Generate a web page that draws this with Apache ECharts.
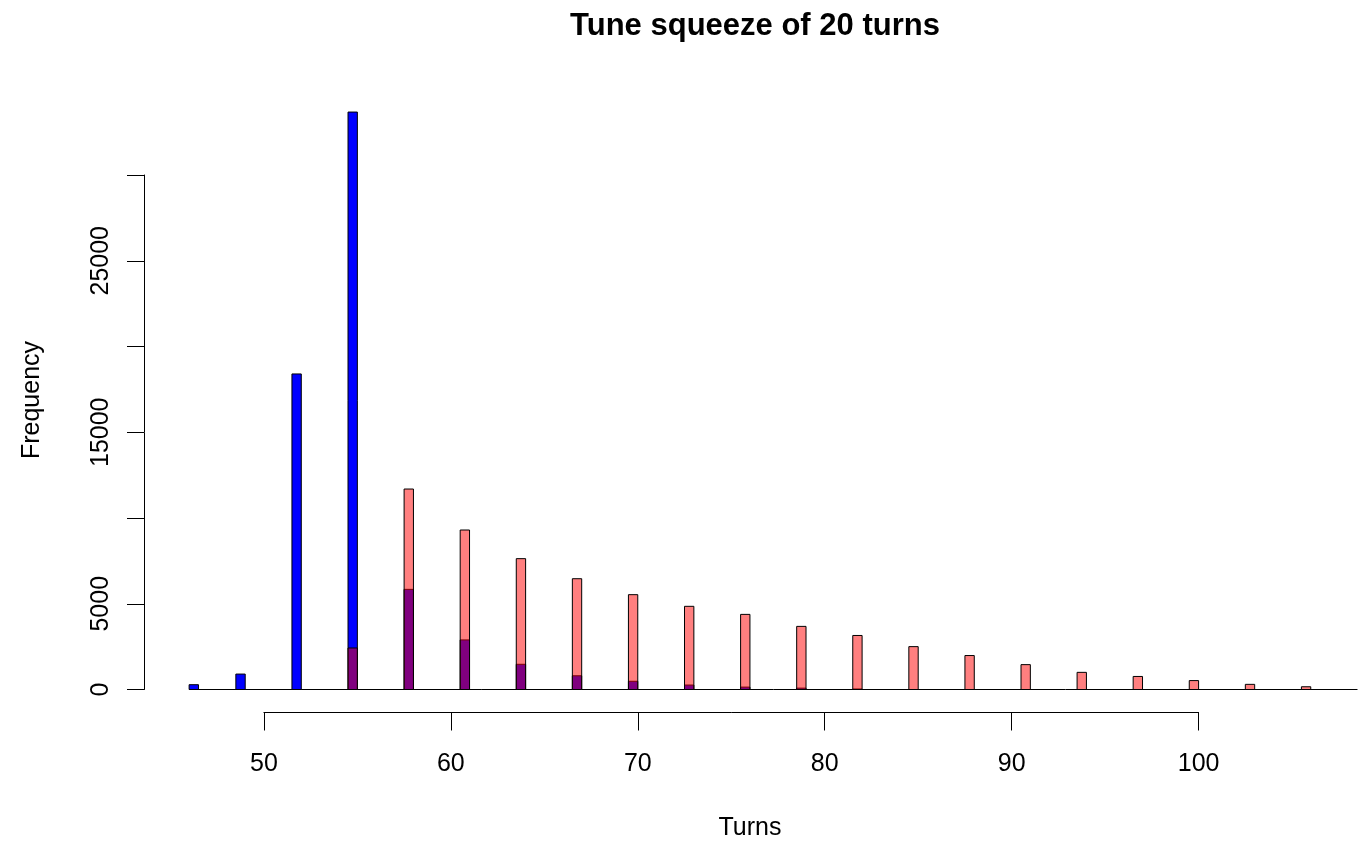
<!DOCTYPE html>
<html>
<head>
<meta charset="utf-8">
<script src="https://cdn.jsdelivr.net/npm/echarts@6/dist/echarts.min.js"></script>
<style>
  html, body { margin: 0; padding: 0; background: #fff; }
  #chart { width: 1365px; height: 843px; }
</style>
</head>
<body>
<div id="chart"></div>
<script>
// histogram bins are 0.5 turns wide, only non-empty bins listed
var binWidth = 0.5
var blueStart = [46, 48.5, 51.5, 54.5, 57.5, 60.5, 63.5, 66.5, 69.5, 72.5, 75.5, 78.5, 81.5]
var blueCounts = [280, 900, 18400, 33670, 5840, 2890, 1470, 800, 480, 260, 140, 80, 30]
var redStart = [54.5, 57.5, 60.5, 63.5, 66.5, 69.5, 72.5, 75.5, 78.5, 81.5, 84.5, 87.5, 90.5, 93.5, 96.5, 99.5, 102.5, 105.5]
var redCounts = [2420, 11690, 9300, 7630, 6460, 5530, 4850, 4380, 3680, 3150, 2500, 1980, 1450, 1000, 760, 520, 300, 160]
// zero-count bins are drawn as a flat line from first to last break
var baseline = [[46, 108.5]]
var xTicks = [50, 60, 70, 80, 90, 100]
var yTickLabels = ['0', '5000', '', '15000', '', '25000', '']

var font = 'Liberation Sans'

function toBins(starts, counts) {
  return starts.map(function (s, i) { return [s, s + binWidth, counts[i]] })
}

function barRenderer(fill) {
  return function (params, api) {
    var p0 = api.coord([api.value(0), api.value(2)])
    var p1 = api.coord([api.value(1), 0])
    return {
      type: 'rect',
      shape: { x: p0[0], y: p0[1], width: p1[0] - p0[0], height: p1[1] - p0[1] },
      style: { fill: fill, stroke: '#000', lineWidth: 1 }
    }
  }
}

function baselineRenderer(params, api) {
  var a = api.coord([api.value(0), 0])
  var b = api.coord([api.value(1), 0])
  return {
    type: 'line',
    shape: { x1: a[0], y1: a[1], x2: b[0], y2: b[1] },
    style: { stroke: '#000', lineWidth: 1 }
  }
}

var chart = echarts.init(document.getElementById('chart'))
chart.setOption({
  animation: false,
  backgroundColor: '#fff',
  title: {
    text: 'Tune squeeze of 20 turns',
    left: 750,
    top: 6,
    textAlign: 'center',
    textStyle: { fontFamily: font, fontSize: 31, fontWeight: 'bold', color: '#000' }
  },
  grid: { left: 263.9, right: 166.4, top: 175, bottom: 153.5 },
  xAxis: {
    type: 'value',
    min: 50, max: 100, interval: 10,
    offset: 23,
    splitLine: { show: false },
    axisLine: { onZero: false, lineStyle: { color: '#000', width: 1 } },
    axisTick: { length: 18, lineStyle: { color: '#000' } },
    axisLabel: {
      margin: 39, color: '#000', fontFamily: font, fontSize: 25,
      formatter: function (v) { return xTicks.indexOf(v) >= 0 ? String(v) : '' }
    }
  },
  yAxis: {
    type: 'value',
    min: 0, max: 30000, interval: 5000,
    offset: 119.9,
    splitLine: { show: false },
    axisLine: { show: true, onZero: false, lineStyle: { color: '#000', width: 1 } },
    axisTick: { show: true, length: 17, lineStyle: { color: '#000' } },
    axisLabel: {
      rotate: 90, margin: 30, color: '#000', fontFamily: font, fontSize: 25,
      formatter: function (v) { return yTickLabels[Math.round(v / 5000)] }
    }
  },
  graphic: [
    {
      type: 'text', x: 32, y: 400, rotation: Math.PI / 2,
      style: { text: 'Frequency', font: '25px "Liberation Sans"', fill: '#000', textAlign: 'center', textVerticalAlign: 'middle' }
    },
    {
      type: 'text', x: 750, y: 828,
      style: { text: 'Turns', font: '25px "Liberation Sans"', fill: '#000', textAlign: 'center', textVerticalAlign: 'middle' }
    }
  ],
  series: [
    {
      type: 'custom', renderItem: baselineRenderer, clip: false, silent: true,
      data: baseline
    },
    {
      type: 'custom', renderItem: barRenderer('#0000ff'), clip: false,
      data: toBins(blueStart, blueCounts)
    },
    {
      type: 'custom', renderItem: barRenderer('rgba(255,0,0,0.5)'), clip: false,
      data: toBins(redStart, redCounts)
    }
  ]
})
</script>
</body>
</html>
